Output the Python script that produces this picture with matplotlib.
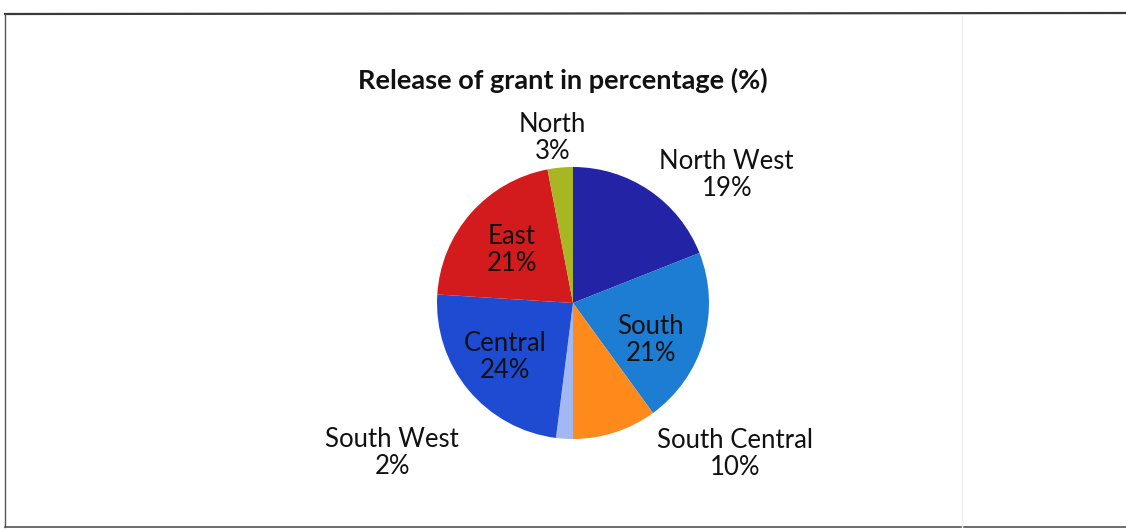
import matplotlib
matplotlib.use('Agg')
import matplotlib.pyplot as plt
from matplotlib.lines import Line2D

# Datos del grafico
regiones = ['North West', 'South', 'South Central', 'South West', 'Central', 'East', 'North']
porcentajes = [19, 21, 10, 2, 24, 21, 3]
colores = ['#2323a6', '#1c7dd2', '#ff8a1c', '#a3b8f2', '#1f4bd2', '#d31a1c', '#a9b624']

# Posicion de las etiquetas (coordenadas del eje, radio = 1)
pos_etiquetas = [(1.13, 0.94), (0.57, -0.27), (1.19, -1.11), (-1.33, -1.10),
                 (-0.50, -0.40), (-0.45, 0.39), (-0.15, 1.21)]

W, H = 1126, 529
fig = plt.figure(figsize=(W / 100, H / 100), dpi=100)
fig.patch.set_facecolor('white')

# Marco escaneado
fig.add_artist(Line2D([5 / W, 1.0], [1 - 14 / H, 1 - 13 / H], color='#3a3a3a', linewidth=1.6))
fig.add_artist(Line2D([5 / W, 5 / W], [1 - 14 / H, 2 / H], color='#555555', linewidth=1.0))
fig.add_artist(Line2D([5 / W, 1.0], [2 / H, 2 / H], color='#555555', linewidth=1.2))
fig.add_artist(Line2D([962 / W, 962 / W], [1 - 16 / H, 2 / H], color='#eeeeee', linewidth=1.0))

# Titulo
fig.text(563 / W, 1 - 80 / H, 'Release of grant in percentage (%)', ha='center', va='center',
         fontsize=19.5, fontweight='bold', family='Lato', color='#111111')

# Pastel
cx, cy, r = 573, 303, 136
ax = fig.add_axes([(cx - r) / W, (H - cy - r) / H, 2 * r / W, 2 * r / H])
ax.pie(porcentajes, colors=colores, startangle=90, counterclock=False,
       wedgeprops={'linewidth': 0})
ax.set_xlim(-1, 1)
ax.set_ylim(-1, 1)
ax.axis('off')

for reg, val, (x, y) in zip(regiones, porcentajes, pos_etiquetas):
    ax.text(x, y, f'{reg}\n{val}%', ha='center', va='center', fontsize=18.5,
            family='Lato', color='#111111', linespacing=1.1)

plt.savefig('out.png', dpi=100)
